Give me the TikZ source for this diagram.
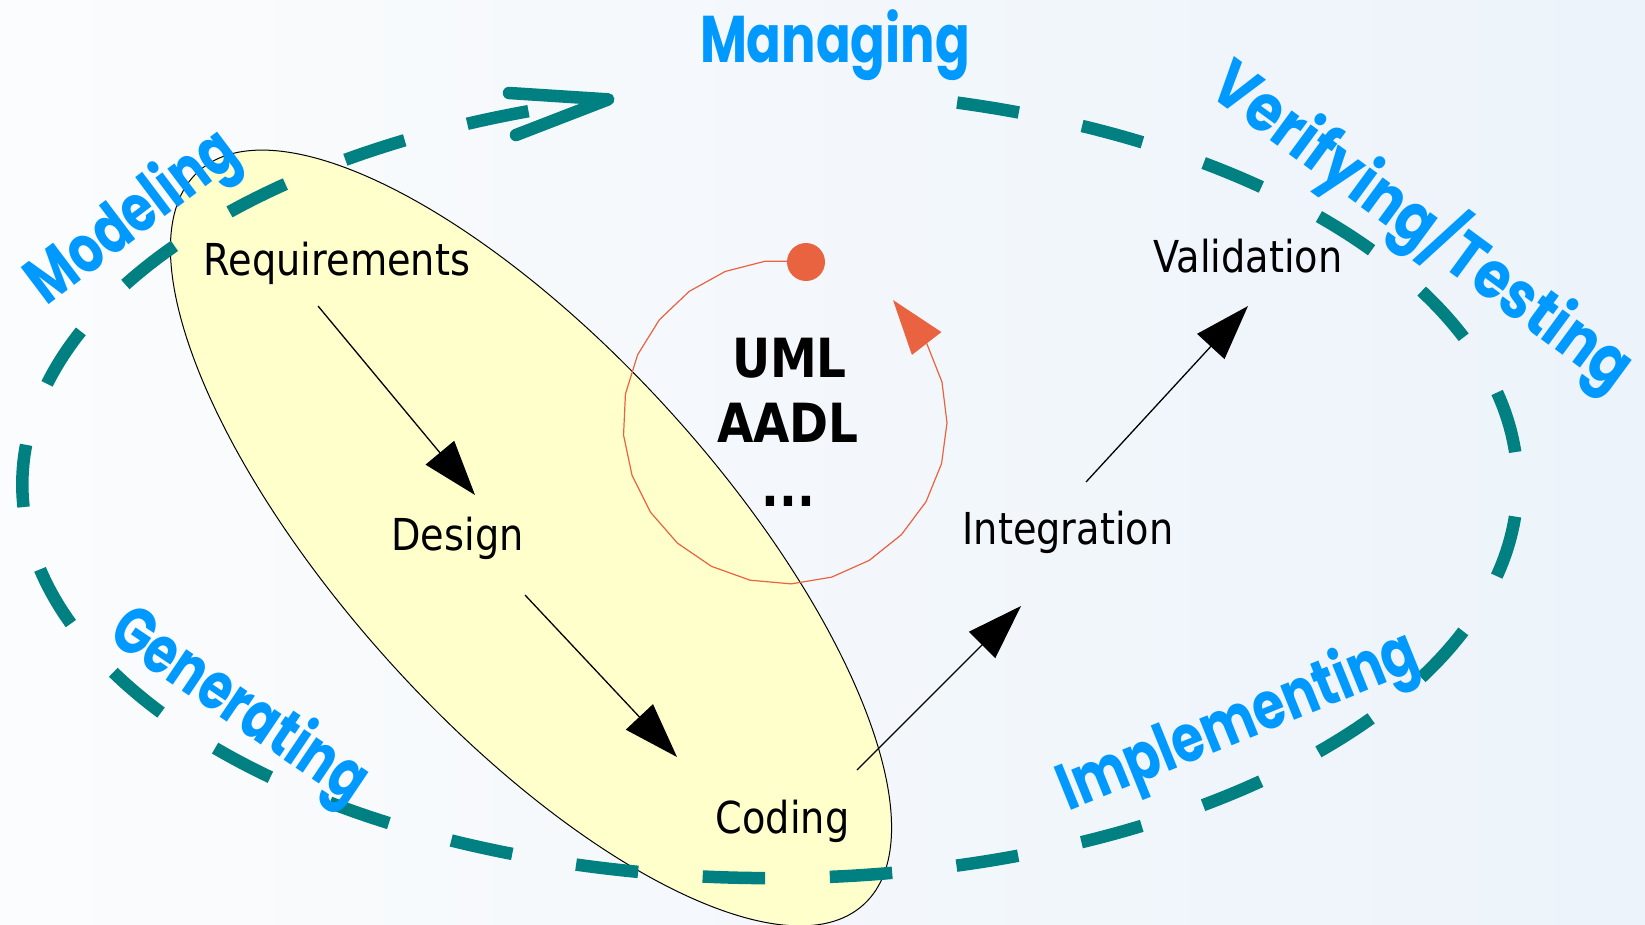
\documentclass[tikz,border=0pt]{standalone}
\usepackage{fontspec}
\setmainfont{DejaVu Sans}[FakeStretch=0.87]
\newfontfamily\comicfont{Poppins}
\usetikzlibrary{arrows.meta}
\definecolor{tealC}{RGB}{0,128,128}
\definecolor{blueC}{RGB}{0,153,255}
\definecolor{redC}{RGB}{234,99,64}
\definecolor{yellowC}{RGB}{255,255,204}
\definecolor{bgL}{RGB}{251,252,253}
\definecolor{bgR}{RGB}{236,243,250}
\begin{document}
\begin{tikzpicture}[x=1pt,y=1pt,
  lbl/.style={font=\fontsize{44}{44}\selectfont, inner sep=0, anchor=base},
  boldlbl/.style={font=\fontsize{54}{54}\selectfont\bfseries, inner sep=0, anchor=base},
  cl/.style={font=\comicfont\bfseries\fontsize{66}{66}\selectfont, text=blueC, inner sep=0},
  arr/.style={line width=1.3pt, -{Triangle[length=55pt,width=37pt]}},
  bigloop/.style={draw=tealC, line width=12.5pt, dash pattern=on 62.5pt off 64.7pt},
  barb/.style={draw=tealC, line width=12.5pt, line cap=round, line join=round},
  cyc/.style={draw=redC, line width=1.2pt, -{Triangle[length=55pt,width=37pt]}}
]
\useasboundingbox (0,0) rectangle (1645,-924);
\shade[left color=bgL, right color=bgR] (0,0) rectangle (1645,-924);

% yellow ellipse
\draw[fill=yellowC, draw=black, line width=1pt, rotate around={-47.8:(531,-538)}]
  (531,-538) ellipse [x radius=495, y radius=188];

% big dashed loop
\coordinate (loopstart) at (957.1,-102.6);
\draw[bigloop] (loopstart) arc[start angle=75.5, end angle=-257.5, x radius=747.5, y radius=394] coordinate (looptip);
\coordinate (barbA) at (509,-93);
\coordinate (barbB) at (516,-135);
\draw[barb] (barbA) -- (looptip) -- (barbB);

% red cycle
\node[circle, fill=redC, inner sep=0, minimum size=38pt] (dot) at (806,-262) {};
\coordinate (cyctip) at (893,-300);
\draw[cyc] plot[domain=82.5:388.9, samples=22] ({785+162*cos(\x)},{-422+162*sin(\x)}) -- (cyctip);

% texts
\node[lbl] (req) at (337,-275) {Requirements};
\node[lbl] (des) at (457.5,-550) {Design};
\node[lbl] (cod) at (782.5,-833) {Coding};
\node[lbl] (int) at (1068,-544) {Integration};
\node[lbl] (val) at (1248,-272) {Validation};
\node[boldlbl] (uml) at (789.5,-377) {UML};
\node[boldlbl] (aadl) at (788,-442) {AADL};
\node[boldlbl] (dots) at (788.5,-506) {...};

% blue labels
\node[cl, anchor=base] (mng) at (835,-62) {\resizebox{270pt}{\height}{Managing}};
\node[cl, rotate=37] (mod) at (134,-219) {\resizebox{245pt}{\height}{Modeling}};
\node[cl, rotate=-34] (gen) at (238,-708) {\resizebox{295pt}{\height}{Generating}};
\node[cl, rotate=-36.3] (ver) at (1423,-225) {\resizebox{505pt}{\height}{Verifying/Testing}};
\node[cl, rotate=22] (imp) at (1239,-724) {\resizebox{382pt}{\height}{Implementing}};

% black arrows
\coordinate (a1s) at (318,-306); \coordinate (a1e) at (475,-495);
\coordinate (a2s) at (525,-595); \coordinate (a2e) at (677,-757);
\coordinate (a3s) at (857,-770); \coordinate (a3e) at (1021,-606);
\coordinate (a4s) at (1086,-482); \coordinate (a4e) at (1248,-306);
\draw[arr] (a1s) -- (a1e);
\draw[arr] (a2s) -- (a2e);
\draw[arr] (a3s) -- (a3e);
\draw[arr] (a4s) -- (a4e);
\end{tikzpicture}
\end{document}
